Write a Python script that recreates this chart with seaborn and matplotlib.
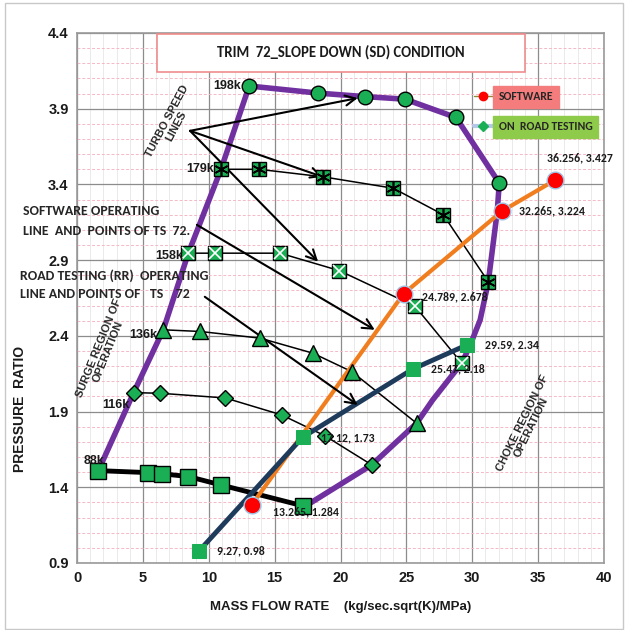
import matplotlib
matplotlib.use("Agg")
import matplotlib.pyplot as plt
import seaborn as sns
import pandas as pd
from matplotlib.lines import Line2D
from matplotlib.patches import Rectangle
from matplotlib import font_manager

# -------------------------------
# DATA
# -------------------------------
speed_names = ["198k", "179k", "158k", "136k", "116k", "88k"]

x_198 = [13.07, 18.3, 21.86, 24.9, 28.77, 32.05]
y_198 = [4.05, 4.003, 3.98, 3.963, 3.842, 3.409]

x_179 = [10.93, 13.8, 18.7, 24.0, 27.8, 31.22]
y_179 = [3.50, 3.50, 3.45, 3.375, 3.20, 2.757]

x_158 = [8.45, 10.47, 15.41, 19.9, 25.65, 29.2]
y_158 = [2.946, 2.946, 2.946, 2.831, 2.596, 2.22]

x_136 = [6.55, 9.34, 13.89, 17.89, 20.85, 25.78]
y_136 = [2.44, 2.429, 2.385, 2.286, 2.164, 1.823]

x_116 = [4.3, 6.3, 11.25, 15.53, 18.82, 22.37]
y_116 = [2.025, 2.021, 1.99, 1.878, 1.74, 1.548]

x_88 = [1.62, 5.36, 6.47, 8.45, 10.9, 17.17]
y_88 = [1.51, 1.497, 1.489, 1.471, 1.416, 1.277]

# surge + choke boundary (purple)
x_bound = [1.62, 4.3, 6.55, 8.45, 10.93, 13.07, 18.3, 21.86, 24.9, 28.77, 32.05,
           31.9, 31.22, 30.6, 29.8, 29.2, 27.0, 25.78, 22.37, 17.6]
y_bound = [1.51, 2.025, 2.44, 2.946, 3.50, 4.05, 4.003, 3.98, 3.963, 3.842, 3.409,
           3.224, 2.757, 2.505, 2.33, 2.22, 1.977, 1.823, 1.548, 1.29]

# software operating line (red points)
x_soft = [13.265, 24.789, 32.265, 36.256]
y_soft = [1.284, 2.678, 3.224, 3.427]

# on road testing operating line
x_road = [9.27, 17.12, 25.47, 29.59]
y_road = [0.98, 1.73, 2.18, 2.34]

# annotation arrows: (text anchor) -> (target)
turbo_from = (8.58, 3.754)
turbo_to = [(21.3, 3.97), (18.65, 3.45), (18.3, 2.89)]
soft_from = (9.1, 3.133)
soft_to = (22.6, 2.44)
road_from = (9.7, 2.658)
road_to = (21.3, 1.944)

# -------------------------------
# STYLE
# -------------------------------
sns.set_style("white")
available = {f.name for f in font_manager.fontManager.ttflist}
cond_font = "Carlito" if "Carlito" in available else "Lato"
plt.rcParams["font.family"] = ["Liberation Sans", "DejaVu Sans"]

GREEN = "#1AAF54"
PURPLE = "#7030A0"
ORANGE = "#F07D1E"
NAVY = "#1F3B5C"

fig = plt.figure(figsize=(6.27, 6.30), dpi=100)
ax = fig.add_axes([77 / 627, 1 - 563 / 630, (604 - 77) / 627, (563 - 33) / 630])

ax.set_xlim(0, 40)
ax.set_ylim(0.9, 4.4)
ax.set_xticks(range(0, 41, 5))
ax.set_yticks([0.9, 1.4, 1.9, 2.4, 2.9, 3.4, 3.9, 4.4])
ax.set_yticklabels(["0.9", "1.4", "1.9", "2.4", "2.9", "3.4", "3.9", "4.4"])
ax.set_xticks(range(0, 41, 1), minor=True)
ax.set_yticks([0.9 + 0.1 * i for i in range(36)], minor=True)

ax.grid(which="minor", axis="y", color="#F5B8C6", lw=0.7, ls=(0, (3, 2)), zorder=0)
ax.grid(which="minor", axis="x", color="#E6E6E6", lw=0.6, zorder=0)
ax.grid(which="major", color="#8C8C8C", lw=0.9, zorder=0.5)
ax.tick_params(which="both", length=0, pad=6)
for lab in ax.get_xticklabels() + ax.get_yticklabels():
    lab.set_fontweight("bold")
    lab.set_fontsize(10.5)
    lab.set_color("#1A1A1A")
for sp in ax.spines.values():
    sp.set_color("#9A9A9A")
    sp.set_linewidth(1.2)

ax.set_xlabel("MASS FLOW RATE    (kg/sec.sqrt(K)/MPa)", fontsize=9.5, fontweight="bold",
              color="#1A1A1A", labelpad=11)
ax.set_ylabel("PRESSURE  RATIO", fontsize=10, fontweight="bold", color="#1A1A1A")
ax.yaxis.set_label_coords(-0.095, 0.29)

# -------------------------------
# LINES
# -------------------------------
def line(xs, ys, **kw):
    df = pd.DataFrame({"x": xs, "y": ys})
    sns.lineplot(data=df, x="x", y="y", sort=False, estimator=None, ax=ax, **kw)

# speed lines (thin black)
line(x_179, y_179, color="black", lw=1.1, zorder=3)
line(x_158, y_158, color="black", lw=1.1, zorder=3)
line(x_136, y_136, color="black", lw=1.1, zorder=3)
line(x_116, y_116, color="black", lw=1.1, zorder=3)
line(x_88, y_88, color="black", lw=3.5, zorder=3)

# boundary, software and road lines
line(x_bound, y_bound, color=PURPLE, lw=4, zorder=4)
line(x_soft, y_soft, color=ORANGE, lw=3, zorder=4)
line(x_road, y_road, color=NAVY, lw=3.5, zorder=4)

# markers
mk = dict(ls="none", zorder=6, markeredgecolor="black", markeredgewidth=1.0, color=GREEN)
line(x_198, y_198, marker="o", markersize=10.5, **mk)
line(x_179, y_179, marker="s", markersize=9.5, **mk)
line(x_179, y_179, marker=(6, 2, 0), markersize=10, ls="none", color="black",
     markeredgecolor="black", markeredgewidth=1.2, zorder=7)
line(x_158, y_158, marker="s", markersize=9.5, **mk)
line(x_158, y_158, marker="x", markersize=8, ls="none", color="black",
     markeredgewidth=1.2, zorder=7)
line(x_136, y_136, marker="^", markersize=11, **mk)
line(x_116, y_116, marker="D", markersize=8.5, **mk)
line(x_88, y_88, marker="s", markersize=11, **mk)

line(x_road, y_road, marker="s", markersize=10, ls="none", color=GREEN,
     markeredgecolor=GREEN, zorder=6)
line(x_soft, y_soft, marker="o", markersize=12, ls="none", color="#FF0000",
     markeredgecolor="#9DC3E6", markeredgewidth=1.0, zorder=6)

# speed labels at first point of each speed line
firsts = [(x_198[0], y_198[0]), (x_179[0], y_179[0]), (x_158[0], y_158[0]),
          (x_136[0], y_136[0]), (x_116[0], y_116[0]), (x_88[0], y_88[0])]
offs = [(-6, 0), (-5, 0), (-4, -2), (-4, -4), (-3, -9), (4, 7)]
for name, (px, py), off in zip(speed_names, firsts, offs):
    ax.annotate(name, (px, py), xytext=off, textcoords="offset points", ha="right",
                va="center", fontsize=9, fontweight="bold", color="#1A1A1A", zorder=8)

# value labels
vfont = dict(fontsize=8.5, fontweight="bold", family=cond_font, color="#1A1A1A", zorder=8)
for vx, vy, lab, off in [
    (x_soft[3], y_soft[3], "36.256, 3.427", (18, 16)),
    (x_soft[2], y_soft[2], "32.265, 3.224", (12, 0)),
    (x_soft[1], y_soft[1], "24.789, 2.678", (13, -2)),
    (x_soft[0], y_soft[0], "13.265, 1.284", (15, -5)),
    (x_road[3], y_road[3], "29.59, 2.34", (13, 0)),
    (x_road[2], y_road[2], "25.47, 2.18", (13, 0)),
    (x_road[1], y_road[1], "17.12, 1.73", (13, 0)),
    (x_road[0], y_road[0], "9.27, 0.98", (13, 0)),
]:
    ha = "center" if off[1] > 10 else "left"
    ax.annotate(lab, (vx, vy), xytext=off, textcoords="offset points", ha=ha,
                va="center", **vfont)

# arrows
arw = dict(arrowstyle="->", color="black", lw=1.5, mutation_scale=18, shrinkA=0, shrinkB=0)
for tgt in turbo_to:
    ax.annotate("", xy=tgt, xytext=turbo_from, arrowprops=arw, zorder=5)
ax.annotate("", xy=soft_to, xytext=soft_from, arrowprops=arw, zorder=5)
ax.annotate("", xy=road_to, xytext=road_from, arrowprops=arw, zorder=5)

# descriptive texts
ax.text(7.2, 3.80, "TURBO SPEED\nLINES", rotation=62, ha="center", va="center",
        fontsize=8, fontweight="bold", linespacing=1.0, rotation_mode="anchor", zorder=8)
ax.text(-4.1, 3.16, "SOFTWARE OPERATING\nLINE  AND  POINTS OF TS  72.", ha="left",
        va="center", fontsize=10, fontweight="bold", family=cond_font, linespacing=1.85,
        clip_on=False, zorder=8)
ax.text(-4.35, 2.737, "ROAD TESTING (RR)  OPERATING\nLINE AND POINTS OF   TS    72",
        ha="left", va="center", fontsize=10, fontweight="bold", family=cond_font,
        linespacing=1.6, clip_on=False, zorder=8)
ax.text(2.0, 2.31, "SURGE REGION OF\nOPERATION", rotation=68, ha="center", va="center",
        fontsize=8, fontweight="bold", linespacing=1.0, rotation_mode="anchor", zorder=8)
ax.text(34.15, 1.81, "CHOKE REGION OF\nOPERATION", rotation=64, ha="center", va="center",
        fontsize=8, fontweight="bold", linespacing=1.0, rotation_mode="anchor", zorder=8)

# title box
ax.add_patch(Rectangle((6.05, 4.144), 27.95, 0.252, facecolor="white",
                       edgecolor="#F08C8C", lw=1.2, zorder=9))
ax.text(20.0, 4.27, "TRIM  72_SLOPE DOWN (SD) CONDITION", ha="center", va="center",
        fontsize=10.5, fontweight="bold", family=cond_font, color="#1A1A1A", zorder=10)

# legend
handles = [
    Line2D([0], [0], color="#8A8A3A", lw=1, marker="o", markersize=6,
           markerfacecolor="red", markeredgecolor="red"),
    Line2D([0], [0], color="#B4C7E7", lw=3, marker="D", markersize=5,
           markerfacecolor=GREEN, markeredgecolor=GREEN),
]
leg = ax.legend(handles, ["SOFTWARE", "ON  ROAD TESTING"], loc="upper left",
                bbox_to_anchor=(0.733, 0.91), frameon=False, handlelength=1.6,
                handletextpad=0.5, labelspacing=1.6,
                prop={"family": cond_font, "weight": "bold", "size": 8.5})
leg.get_texts()[0].set_backgroundcolor("#F47C7C")
leg.get_texts()[1].set_backgroundcolor("#8FCB4A")
leg.set_zorder(10)

# light figure border
fig.patches.append(Rectangle((0.008, 0.002), 0.985, 0.994, transform=fig.transFigure,
                             fill=False, edgecolor="#C8C8C8", lw=1))

fig.savefig("out.png", dpi=100)
